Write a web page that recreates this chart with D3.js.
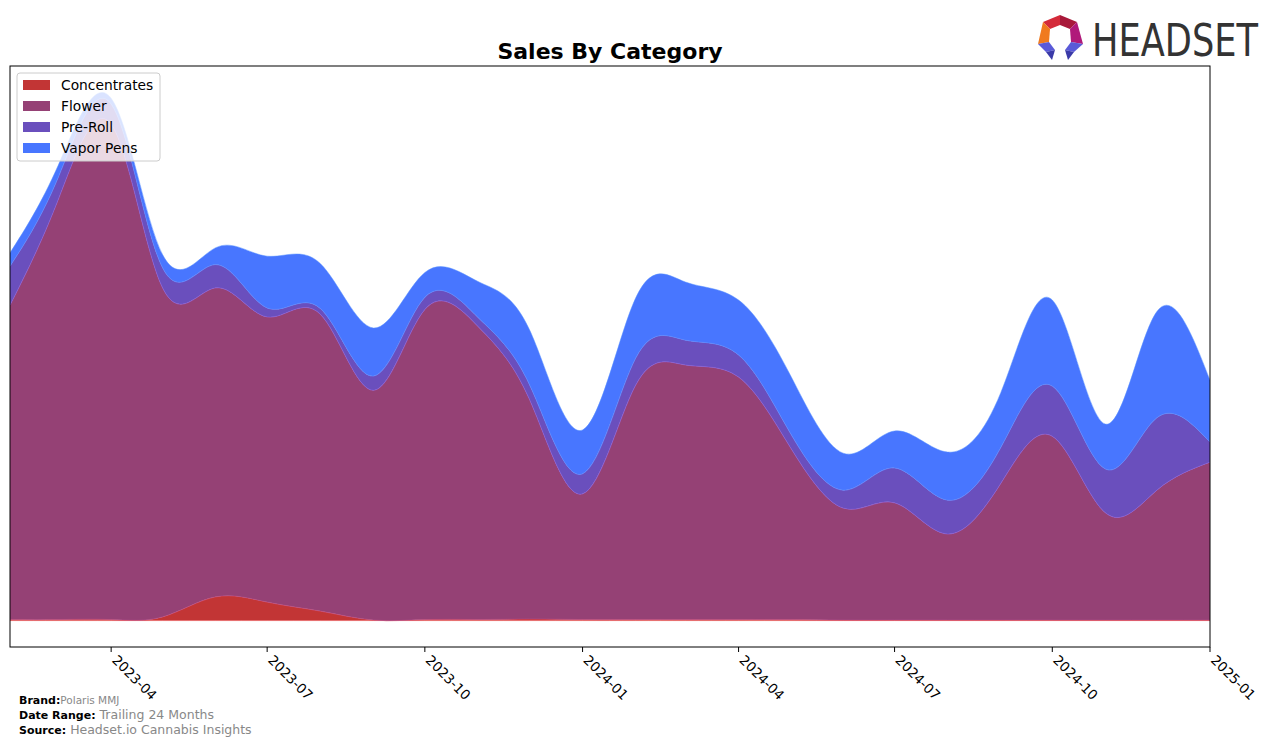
<!DOCTYPE html>
<html><head><meta charset="utf-8">
<script src="https://cdn.jsdelivr.net/npm/d3@7"></script>
<style>
body{margin:0;background:#fff;}
svg{display:block;font-family:"DejaVu Sans",sans-serif;}
</style></head>
<body>
<svg id="chart" width="1276" height="746"></svg>
<script>
const months = ["2023-02","2023-03","2023-04","2023-05","2023-06","2023-07","2023-08","2023-09","2023-10","2023-11","2023-12","2024-01","2024-02","2024-03","2024-04","2024-05","2024-06","2024-07","2024-08","2024-09","2024-10","2024-11","2024-12","2025-01"];
const concentrates = [0.2,0.2,0.2,0.7,4.5,3.5,1.8,0.1,0.2,0.2,0.3,0.2,0.2,0.2,0.2,0.2,0.1,0.1,0.1,0.1,0.1,0.1,0.1,0.1];
const flower = [59.5,79.4,93.8,62.3,58.5,54.0,56.2,43.5,58.7,55.5,41.6,23.8,44.4,48.2,45.9,32.7,21.2,22.2,16.3,25.9,34.8,20.3,24.6,29.9];
const preRoll = [7.4,4.2,3.8,3.8,4.4,1.7,1.1,2.7,2.3,1.7,2.8,3.8,5.1,4.7,4.2,2.7,3.4,6.6,6.4,6.8,9.5,8.3,13.7,3.8];
const vaporPens = [2.5,2.3,1.1,2.5,3.2,9.8,8.5,9.1,4.7,6.8,10.4,8.3,11.4,11.0,10.4,11.0,7.0,7.0,9.1,10.4,16.3,8.5,20.1,11.7];
const seriesNames = ["Concentrates","Flower","Pre-Roll","Vapor Pens"];
const seriesColors = ["#c23535","#954175","#6a4fbd","#4876ff"];
const tickLabels = ["2023-04","2023-07","2023-10","2024-01","2024-04","2024-07","2024-10","2025-01"];

const parse = d3.timeParse("%Y-%m");
const rows = months.map((m,i)=>({date:parse(m),"Concentrates":concentrates[i],"Flower":flower[i],"Pre-Roll":preRoll[i],"Vapor Pens":vaporPens[i]}));

const svg = d3.select("#chart");
const L=10,R=1210,T=66,B=647;
const x = d3.scaleTime().domain([parse("2023-02"),parse("2025-01")]).range([L,R]);
const y = d3.scaleLinear().domain([-5,105]).range([B,T]);

const stack = d3.stack().keys(seriesNames);
const layers = stack(rows);
const area = d3.area().curve(d3.curveNatural)
  .x(d=>x(d.data.date)).y0(d=>y(d[0])).y1(d=>y(d[1]));

svg.append("defs").append("clipPath").attr("id","clip")
  .append("rect").attr("x",L).attr("y",T).attr("width",R-L).attr("height",B-T);

svg.append("g").attr("clip-path","url(#clip)").selectAll("path").data(layers).join("path")
  .attr("d",area).attr("fill",(d,i)=>seriesColors[i])
  .attr("stroke",(d,i)=>d3.color(seriesColors[i]).brighter(0.6)).attr("stroke-width",0.5);

// frame
svg.append("rect").attr("x",L).attr("y",T).attr("width",R-L).attr("height",B-T)
  .attr("fill","none").attr("stroke","#000").attr("stroke-width",1);

// x axis
const ticks = tickLabels.map(parse);
const ax = svg.append("g").attr("transform",`translate(0,${B})`);
ax.selectAll("line").data(ticks).join("line")
  .attr("x1",d=>x(d)).attr("x2",d=>x(d)).attr("y1",0).attr("y2",5).attr("stroke","#000");
ax.selectAll("text").data(ticks).join("text")
  .attr("transform",d=>`translate(${x(d)},${14}) rotate(45)`)
  .attr("font-size",13.5).attr("fill","#000").text(d=>d3.timeFormat("%Y-%m")(d));

// title
svg.append("text").attr("x",610).attr("y",59).attr("text-anchor","middle")
  .attr("font-size",22).attr("font-weight","bold").text("Sales By Category");

// legend
const lg = svg.append("g");
lg.append("rect").attr("x",17).attr("y",73).attr("width",143).attr("height",88).attr("rx",3)
  .attr("fill","#fff").attr("fill-opacity",0.8).attr("stroke","#ccc");
seriesNames.forEach((n,i)=>{
  lg.append("rect").attr("x",23).attr("y",80+i*21).attr("width",27).attr("height",10).attr("fill",seriesColors[i]);
  lg.append("text").attr("x",61).attr("y",90+i*21).attr("font-size",13.8).text(n);
});

// footer
const ft = [["Brand:","Polaris MMJ",10.5],["Date Range:","Trailing 24 Months",12.5],["Source:","Headset.io Cannabis Insights",12.5]];
ft.forEach((f,i)=>{
  const t = svg.append("text").attr("x",19).attr("y",704+i*15);
  t.append("tspan").attr("font-weight","bold").attr("font-size",11).text(f[0]);
  t.append("tspan").attr("fill","#888").attr("font-size",f[2]).attr("dx",f[0]==="Brand:"?0:4).text(f[1]);
});

// logo
const lo = svg.append("g");
const polys = [
  {p:[[1043,22],[1060,15],[1060,25],[1050,29]],c:"#d42a3a"},
  {p:[[1060,15],[1077,22],[1070,29],[1060,25]],c:"#a8193a"},
  {p:[[1043,22],[1050,29],[1049,42],[1038,44]],c:"#f07a1e"},
  {p:[[1077,22],[1083,44],[1071,42],[1070,29]],c:"#b01a7a"},
  {p:[[1038,44],[1049,42],[1055,50],[1046,52]],c:"#5a5ad8"},
  {p:[[1046,52],[1055,50],[1052,60]],c:"#3a3aa8"},
  {p:[[1083,44],[1071,42],[1065,50],[1074,52]],c:"#5a5ad8"},
  {p:[[1074,52],[1065,50],[1068,60]],c:"#3a3aa8"}
];
polys.forEach(o=>lo.append("polygon").attr("points",o.p.map(q=>q.join(",")).join(" ")).attr("fill",o.c));
const lt = lo.append("text").attr("x",0).attr("y",0).attr("font-size",44)
  .attr("font-family","'DejaVu Sans Condensed','Liberation Sans Narrow',sans-serif")
  .attr("fill","#333").text("HEADSET");
const w = lt.node().getComputedTextLength();
lt.attr("transform",`translate(1092,56) scale(${166/w},1)`);
</script>
</body></html>
